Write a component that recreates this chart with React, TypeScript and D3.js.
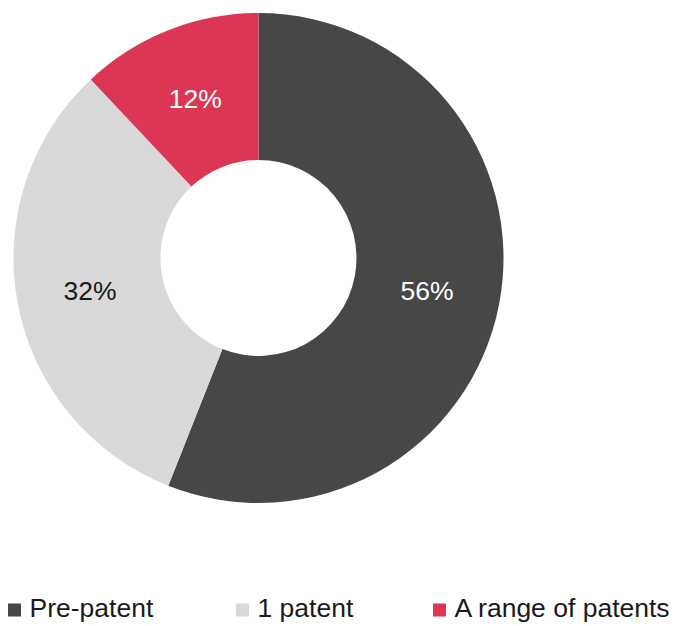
import React from "react";
import * as d3 from "d3";

const categories = ["Pre-patent", "1 patent", "A range of patents"];
const values = [56, 32, 12];
const labels = ["56%", "32%", "12%"];
const colors = ["#474747", "#D9D9D9", "#DB3654"];
const labelColors = ["#ffffff", "#1a1a1a", "#ffffff"];

const W = 676;
const H = 626;
const CX = 258.5;
const CY = 258;
const R_OUT = 245;
const R_IN = 98;
const FONT = "'Liberation Sans', Arial, Helvetica, sans-serif";

export default function App() {
  const pie = d3.pie<number>().sort(null).value((d) => d);
  const arcs = pie(values);
  const arc = d3.arc<d3.PieArcDatum<number>>().innerRadius(R_IN).outerRadius(R_OUT);
  const legendX = d3.scaleOrdinal<string, number>().domain(categories).range([8, 236, 433]);

  return (
    <svg
      width={W}
      height={H}
      style={{ position: "absolute", left: 0, top: 0, display: "block", background: "#fff" }}
    >
      <g transform={`translate(${CX},${CY})`}>
        {arcs.map((a, i) => (
          <path key={i} d={arc(a) || ""} fill={colors[i]} />
        ))}
        {arcs.map((a, i) => {
          const [x, y] = arc.centroid(a);
          return (
            <text
              key={"l" + i}
              x={x}
              y={y + 9.5}
              textAnchor="middle"
              fontFamily={FONT}
              fontSize={26.5}
              fill={labelColors[i]}
            >
              {labels[i]}
            </text>
          );
        })}
      </g>
      <g>
        {categories.map((c, i) => (
          <g key={c} transform={`translate(${legendX(c)},0)`}>
            <rect x={0} y={603.5} width={13} height={13} fill={colors[i]} />
            <text x={21.5} y={617} fontFamily={FONT} fontSize={26.5} fill="#1a1a1a">
              {c}
            </text>
          </g>
        ))}
      </g>
    </svg>
  );
}
